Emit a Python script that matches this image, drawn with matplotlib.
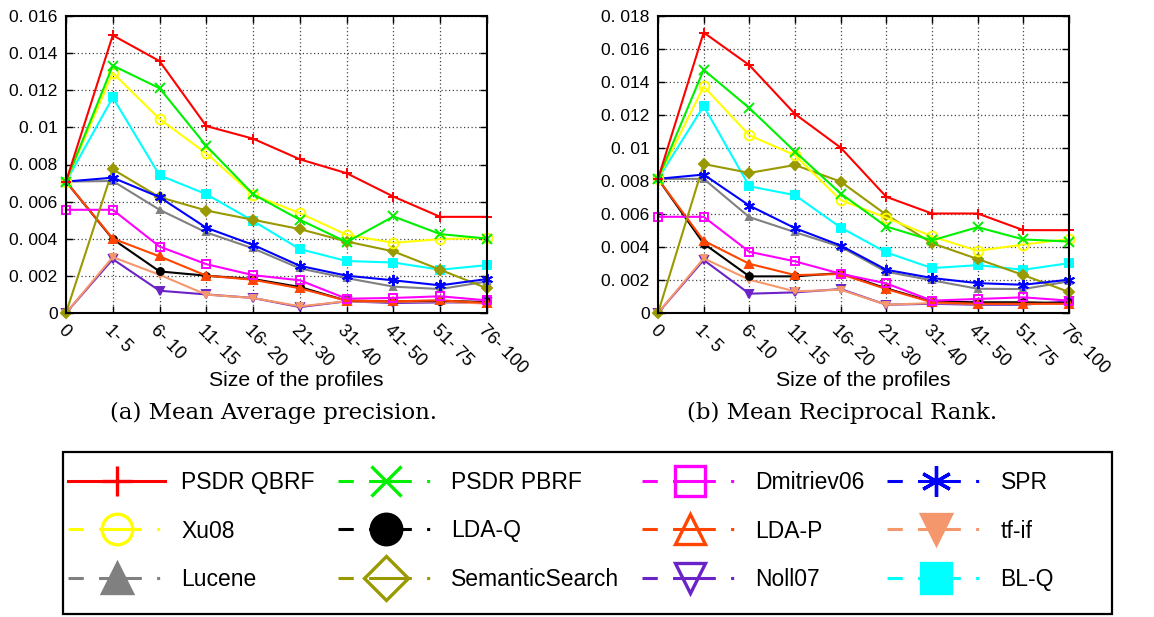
import matplotlib
matplotlib.use("Agg")
import matplotlib.pyplot as plt
from matplotlib.lines import Line2D
from matplotlib.patches import Rectangle
from matplotlib.transforms import Bbox, TransformedBbox

plt.rcParams['font.family'] = ['Liberation Sans', 'DejaVu Sans']

# profile size buckets (x axis)
sizes = ["0", "1- 5", "6- 10", "11- 15", "16- 20", "21- 30",
         "31- 40", "41- 50", "51- 75", "76- 100"]

# (a) Mean Average Precision
map_qbrf = [0.00708, 0.01496, 0.01357, 0.01007, 0.00939, 0.00828, 0.00753, 0.00627, 0.00518, 0.00518]
map_pbrf = [0.00708, 0.01333, 0.01211, 0.00900, 0.00640, 0.00502, 0.00382, 0.00520, 0.00425, 0.00401]
map_dmit = [0.00556, 0.00556, 0.00358, 0.00263, 0.00204, 0.00176, 0.00077, 0.00081, 0.00090, 0.00068]
map_spr = [0.00708, 0.00729, 0.00624, 0.00459, 0.00367, 0.00254, 0.00201, 0.00176, 0.00149, 0.00183]
map_xu08 = [0.00708, 0.01294, 0.01045, 0.00860, 0.00636, 0.00538, 0.00421, 0.00378, 0.00398, 0.00405]
map_ldaq = [0.00708, 0.00398, 0.00224, 0.00201, 0.00183, 0.00140, 0.00066, 0.00063, 0.00066, 0.00059]
map_ldap = [0.00708, 0.00401, 0.00305, 0.00201, 0.00179, 0.00133, 0.00066, 0.00063, 0.00068, 0.00054]
map_tfif = [0.0, 0.00301, 0.00206, 0.00099, 0.00081, 0.00036, 0.00063, 0.00059, 0.00063, 0.00050]
map_luc = [0.00708, 0.00711, 0.00556, 0.00434, 0.00348, 0.00240, 0.00188, 0.00142, 0.00129, 0.00170]
map_sem = [0.0, 0.00774, 0.00624, 0.00552, 0.00502, 0.00452, 0.00385, 0.00332, 0.00233, 0.00133]
map_noll = [0.0, 0.00290, 0.00120, 0.00100, 0.00081, 0.00032, 0.00063, 0.00054, 0.00057, 0.00057]
map_blq = [0.00708, 0.01161, 0.00742, 0.00640, 0.00496, 0.00344, 0.00280, 0.00272, 0.00233, 0.00258]

# (b) Mean Reciprocal Rank
mrr_qbrf = [0.00813, 0.01700, 0.01502, 0.01206, 0.01002, 0.00704, 0.00603, 0.00603, 0.00502, 0.00502]
mrr_pbrf = [0.00813, 0.01474, 0.01242, 0.00978, 0.00724, 0.00524, 0.00440, 0.00520, 0.00446, 0.00433]
mrr_dmit = [0.00583, 0.00583, 0.00371, 0.00313, 0.00238, 0.00179, 0.00075, 0.00085, 0.00095, 0.00075]
mrr_spr = [0.00813, 0.00839, 0.00651, 0.00514, 0.00409, 0.00262, 0.00212, 0.00181, 0.00171, 0.00202]
mrr_xu08 = [0.00813, 0.01373, 0.01077, 0.00956, 0.00685, 0.00577, 0.00464, 0.00377, 0.00415, 0.00448]
mrr_ldaq = [0.00813, 0.00421, 0.00222, 0.00222, 0.00242, 0.00149, 0.00069, 0.00065, 0.00065, 0.00060]
mrr_ldap = [0.00813, 0.00438, 0.00298, 0.00230, 0.00236, 0.00145, 0.00065, 0.00056, 0.00056, 0.00056]
mrr_tfif = [0.0, 0.00331, 0.00202, 0.00131, 0.00141, 0.00050, 0.00060, 0.00056, 0.00056, 0.00056]
mrr_luc = [0.00813, 0.00813, 0.00581, 0.00490, 0.00401, 0.00250, 0.00198, 0.00147, 0.00145, 0.00192]
mrr_sem = [0.0, 0.00903, 0.00849, 0.00897, 0.00796, 0.00595, 0.00423, 0.00327, 0.00230, 0.00127]
mrr_noll = [0.0, 0.00321, 0.00117, 0.00125, 0.00145, 0.00050, 0.00056, 0.00050, 0.00050, 0.00071]
mrr_blq = [0.00813, 0.01254, 0.00768, 0.00714, 0.00518, 0.00367, 0.00272, 0.00290, 0.00262, 0.00302]

names = ["PSDR QBRF", "PSDR PBRF", "Dmitriev06", "SPR", "Xu08", "LDA-Q",
         "LDA-P", "tf-if", "Lucene", "SemanticSearch", "Noll07", "BL-Q"]
map_series = [map_qbrf, map_pbrf, map_dmit, map_spr, map_xu08, map_ldaq,
              map_ldap, map_tfif, map_luc, map_sem, map_noll, map_blq]
mrr_series = [mrr_qbrf, mrr_pbrf, mrr_dmit, mrr_spr, mrr_xu08, mrr_ldaq,
              mrr_ldap, mrr_tfif, mrr_luc, mrr_sem, mrr_noll, mrr_blq]

colors = ['#ff0000', '#00f000', '#ff00ff', '#0000ff', '#ffff00', '#000000',
          '#ff4500', '#f4976c', '#808080', '#999900', '#6b22c6', '#00ffff']
asterisk = (6, 2, 0)
# markers inside the plots: (marker, filled, size)
plot_marks = [('+', True, 7), ('x', True, 7), ('s', False, 6), (asterisk, True, 8),
              ('o', False, 7), ('o', True, 5), ('^', True, 6), ('v', True, 5),
              ('^', True, 5), ('D', True, 5), ('v', True, 6), ('s', True, 6)]
# markers in the key
key_marks = [('+', True), ('x', True), ('s', False), (asterisk, True),
             ('o', False), ('o', True), ('^', False), ('v', True),
             ('^', True), ('D', False), ('v', False), ('s', True)]
# drawing order (later on top)
draw_order = [8, 10, 7, 5, 6, 2, 11, 9, 3, 4, 1, 0]

fig = plt.figure(figsize=(11.54, 6.17), dpi=100)
W, H = 1154.0, 617.0

def make_panel(rect, series, ymax, xlabel, caption, cap_x, xl_x, clip_x):
    ax = fig.add_axes(rect)
    x = list(range(len(sizes)))
    for i in draw_order:
        m, filled, ms = plot_marks[i]
        ax.plot(x, series[i], color=colors[i], lw=1.5, marker=m, ms=ms, mew=1.4,
                mfc=colors[i] if filled else 'none', mec=colors[i], clip_on=False)
    ax.set_xlim(0, len(sizes) - 1)
    ax.set_ylim(0, ymax)
    yt = [k * 0.002 for k in range(int(round(ymax / 0.002)) + 1)]
    ax.set_yticks(yt)
    ax.set_yticklabels(["0" if v == 0 else ("%g" % v).replace(".", ". ") for v in yt],
                       fontsize=12.5)
    ax.set_xticks(x)
    labs = ax.set_xticklabels(sizes, fontsize=13, rotation=-45, ha='left',
                              va='top', rotation_mode='anchor')
    clipbox = TransformedBbox(Bbox([[0, 0], [clip_x / W, 1]]), fig.transFigure)
    for t in labs:
        t.set_clip_box(clipbox)
        t.set_clip_on(True)
    ax.tick_params(direction='in', length=5, top=True, right=True, pad=6, width=1)
    ax.grid(True, linestyle=(0, (1, 2)), color='#444444', lw=0.9)
    for s in ax.spines.values():
        s.set_linewidth(1.5)
    fig.text(xl_x / W, 1 - 381 / H, xlabel, ha='center', va='center', fontsize=15.3)
    fig.text(cap_x / W, 1 - 413 / H, caption, ha='center', va='center',
             fontsize=16.5, family=['DejaVu Serif'])
    return ax

make_panel([66 / W, 1 - 313 / H, 421 / W, 297 / H], map_series, 0.016,
           "Size of the profiles", "(a) Mean Average precision.", 273, 296, 553)
make_panel([658 / W, 1 - 313 / H, 411 / W, 297 / H], mrr_series, 0.018,
           "Size of the profiles", "(b) Mean Reciprocal Rank.", 842, 863, W)

# key
handles = []
for i in range(len(names)):
    m, filled = key_marks[i]
    ls = '-' if i == 0 else (0, (5, 5, 14, 5, 1, 5))
    handles.append(Line2D([], [], color=colors[i], lw=2.2, ls=ls, marker=m, ms=22,
                          mew=2.4, mfc=colors[i] if filled else 'none', mec=colors[i]))
order = [0, 4, 8, 1, 5, 9, 2, 6, 10, 3, 7, 11]
fig.legend([handles[k] for k in order], [names[k] for k in order], ncol=4,
           loc='center left', bbox_to_anchor=(68 / W, 1 - 531 / H), frameon=False,
           fontsize=16.5, handlelength=4.24, handletextpad=0.7, columnspacing=1.0,
           labelspacing=1.12, borderpad=0, borderaxespad=0)
fig.patches.append(Rectangle((63 / W, 1 - 614 / H), (1112 - 63) / W, (614 - 452) / H,
                             transform=fig.transFigure, fill=False, ec='black', lw=1.6))

fig.savefig("out.png", dpi=100)
